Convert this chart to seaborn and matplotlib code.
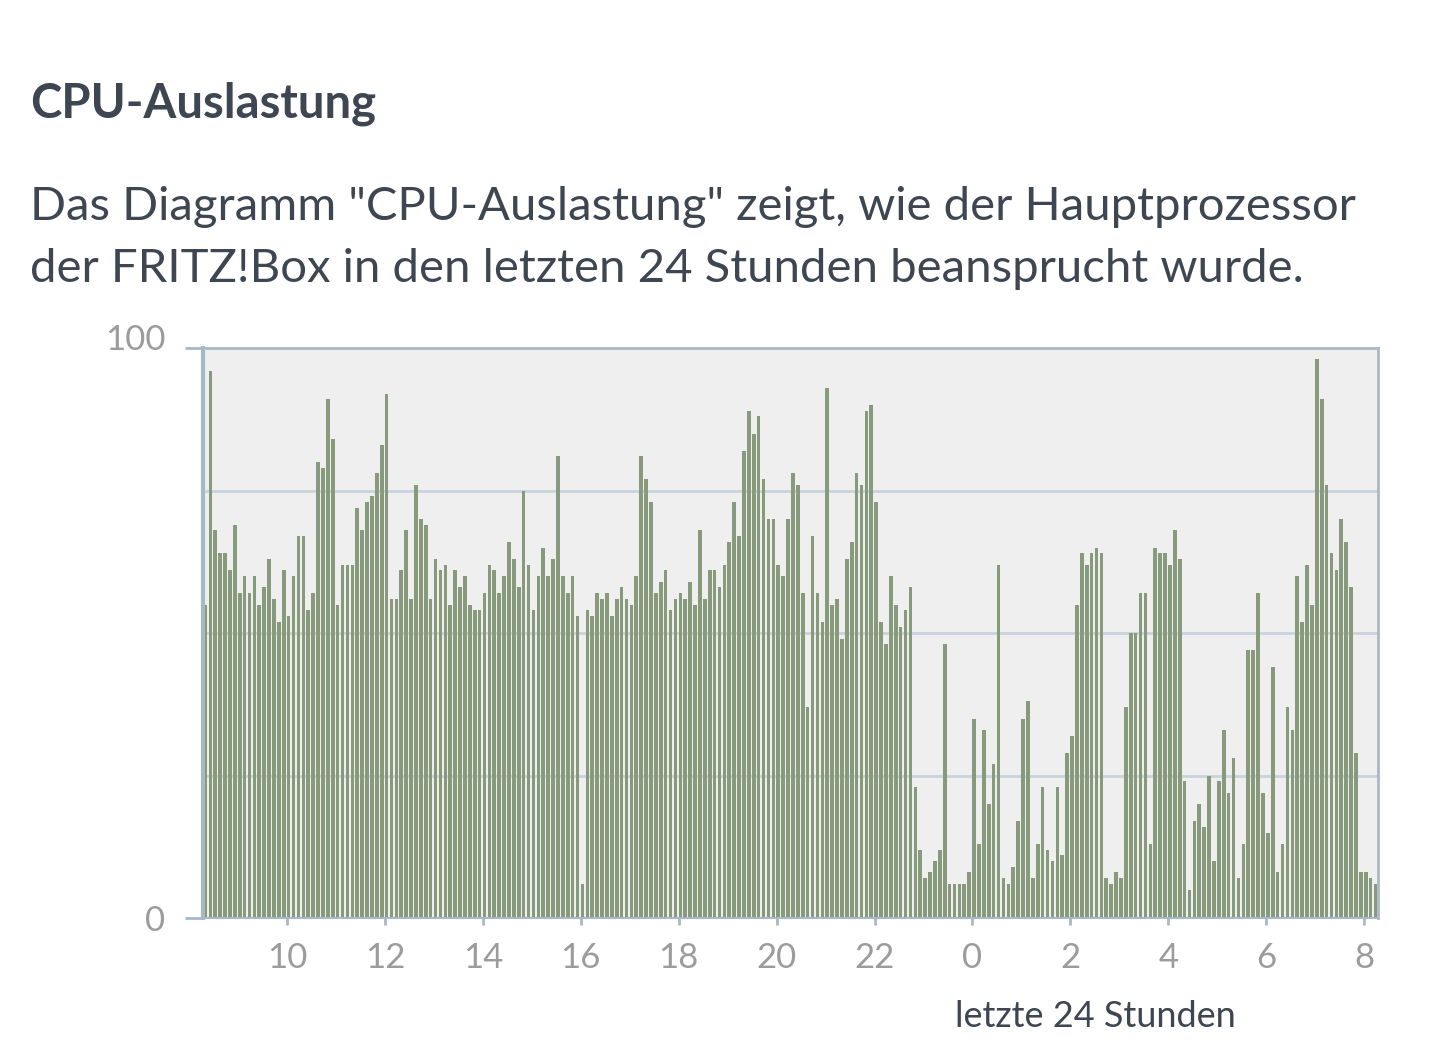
import numpy as np
import pandas as pd
import matplotlib
matplotlib.use('Agg')
import matplotlib.pyplot as plt
import matplotlib.transforms as mtransforms
import seaborn as sns

# CPU-Auslastung in Prozent, ein Balken je 6 Minuten (240 Balken = 24 Stunden)
cpu_0812 = [55, 96, 68, 64, 64, 61, 69, 57, 60, 57, 60, 55, 58, 63, 56, 52, 61, 53, 60, 67, 67, 54, 57, 80,
            79, 91, 84, 55, 62, 62, 62, 72, 68, 73, 74, 78, 83, 92, 56, 56, 61, 68, 56, 76, 70, 69, 56, 63]
cpu_1216 = [61, 62, 55, 61, 58, 60, 55, 54, 54, 57, 62, 61, 57, 60, 66, 63, 58, 75, 62, 54, 60, 65, 60, 63,
            81, 60, 57, 60, 53, 6, 54, 53, 57, 56, 57, 53, 56, 58, 56, 55, 60, 81, 77, 73, 57, 59, 61, 54]
cpu_1620 = [56, 57, 56, 59, 55, 68, 56, 61, 61, 58, 62, 66, 73, 67, 82, 89, 85, 88, 77, 70, 70, 62, 60, 70,
            78, 76, 57, 37, 67, 57, 52, 93, 55, 56, 49, 63, 66, 78, 76, 89, 90, 73, 52, 48, 60, 55, 51, 54]
cpu_2000 = [58, 23, 12, 7, 8, 10, 12, 48, 6, 6, 6, 6, 8, 35, 13, 33, 20, 27, 62, 7, 6, 9, 17, 35,
            38, 7, 13, 23, 12, 10, 23, 11, 29, 32, 55, 64, 62, 64, 65, 64, 7, 6, 8, 7, 37, 50, 50, 57]
cpu_0408 = [57, 13, 65, 64, 64, 62, 68, 63, 24, 5, 17, 20, 16, 25, 10, 24, 33, 22, 28, 7, 13, 47, 47, 57, 22,
            15, 44, 8, 13, 37, 33, 60, 52, 62, 55, 98, 91, 76, 64, 61, 70, 66, 58, 29, 8, 8, 7, 6]
cpu = cpu_0812 + cpu_1216 + cpu_1620 + cpu_2000 + cpu_0408

start_hour = 8 + 17 / 60
step_hour = 0.1
tick_hours = [10, 12, 14, 16, 18, 20, 22, 24, 26, 28, 30, 32]
tick_labels = ['10', '12', '14', '16', '18', '20', '22', '0', '2', '4', '6', '8']

df = pd.DataFrame({'slot': np.arange(len(cpu)), 'cpu': cpu})

sns.set_style('white')
plt.rcParams['font.family'] = ['Lato', 'DejaVu Sans']

text_dark = '#3d4651'
tick_gray = '#9c9c9c'
frame = '#a9b8c6'

fig = plt.figure(figsize=(14.4, 10.54), dpi=100)
ax = fig.add_axes([203 / 1440, 1 - 918 / 1054, 1175 / 1440, 570 / 1054])
sns.barplot(data=df, x='slot', y='cpu', color='#879a7b', saturation=1, width=0.74,
            errorbar=None, linewidth=0, ax=ax)

ax.set_facecolor('#efefef')
ax.set_xlim(-0.5, len(cpu) - 0.5)
ax.set_ylim(0, 100)

ax.set_yticks([0, 100], ['0', '100'])
ax.set_yticks([25, 50, 75], minor=True)
ax.yaxis.grid(True, which='minor', color='#c9d3dc', linewidth=2)
ax.set_axisbelow(True)

tick_pos = [(h - start_hour) / step_hour - 0.5 for h in tick_hours]
ax.set_xticks(tick_pos, tick_labels)

ax.tick_params(axis='y', which='major', left=True, length=13, width=2, color=frame,
               pad=14, labelsize=25, labelcolor=tick_gray)
ax.tick_params(axis='y', which='minor', left=False, length=0)
ax.tick_params(axis='x', bottom=True, length=5, width=2, color=frame,
               pad=12, labelsize=25, labelcolor=tick_gray)
# "100" sitzt etwas oberhalb der oberen Kante
top_label = ax.yaxis.get_major_ticks()[1].label1
top_label.set_transform(top_label.get_transform() +
                        mtransforms.ScaledTranslation(0, 0.11, fig.dpi_scale_trans))
ax.set_xlabel('')
ax.set_ylabel('')

for side in ['left', 'top', 'right', 'bottom']:
    ax.spines[side].set_visible(True)
    ax.spines[side].set_color(frame)
ax.spines['left'].set_linewidth(3)
ax.spines['top'].set_linewidth(2)
ax.spines['right'].set_linewidth(2)
ax.spines['bottom'].set_linewidth(1.5)

fig.text(30 / 1440, 1 - 118 / 1054, 'CPU-Auslastung', fontsize=34, fontweight='bold',
         color=text_dark, va='baseline', ha='left')
fig.text(30 / 1440, 1 - 220 / 1054,
         'Das Diagramm "CPU-Auslastung" zeigt, wie der Hauptprozessor',
         fontsize=34, color=text_dark, va='baseline', ha='left')
fig.text(30 / 1440, 1 - 282 / 1054,
         'der FRITZ!Box in den letzten 24 Stunden beansprucht wurde.',
         fontsize=34, color=text_dark, va='baseline', ha='left')
fig.text(1095 / 1440, 1 - 1027 / 1054, 'letzte 24 Stunden', fontsize=26,
         color=text_dark, va='baseline', ha='center')

plt.savefig('out.png', dpi=100, facecolor='white')
